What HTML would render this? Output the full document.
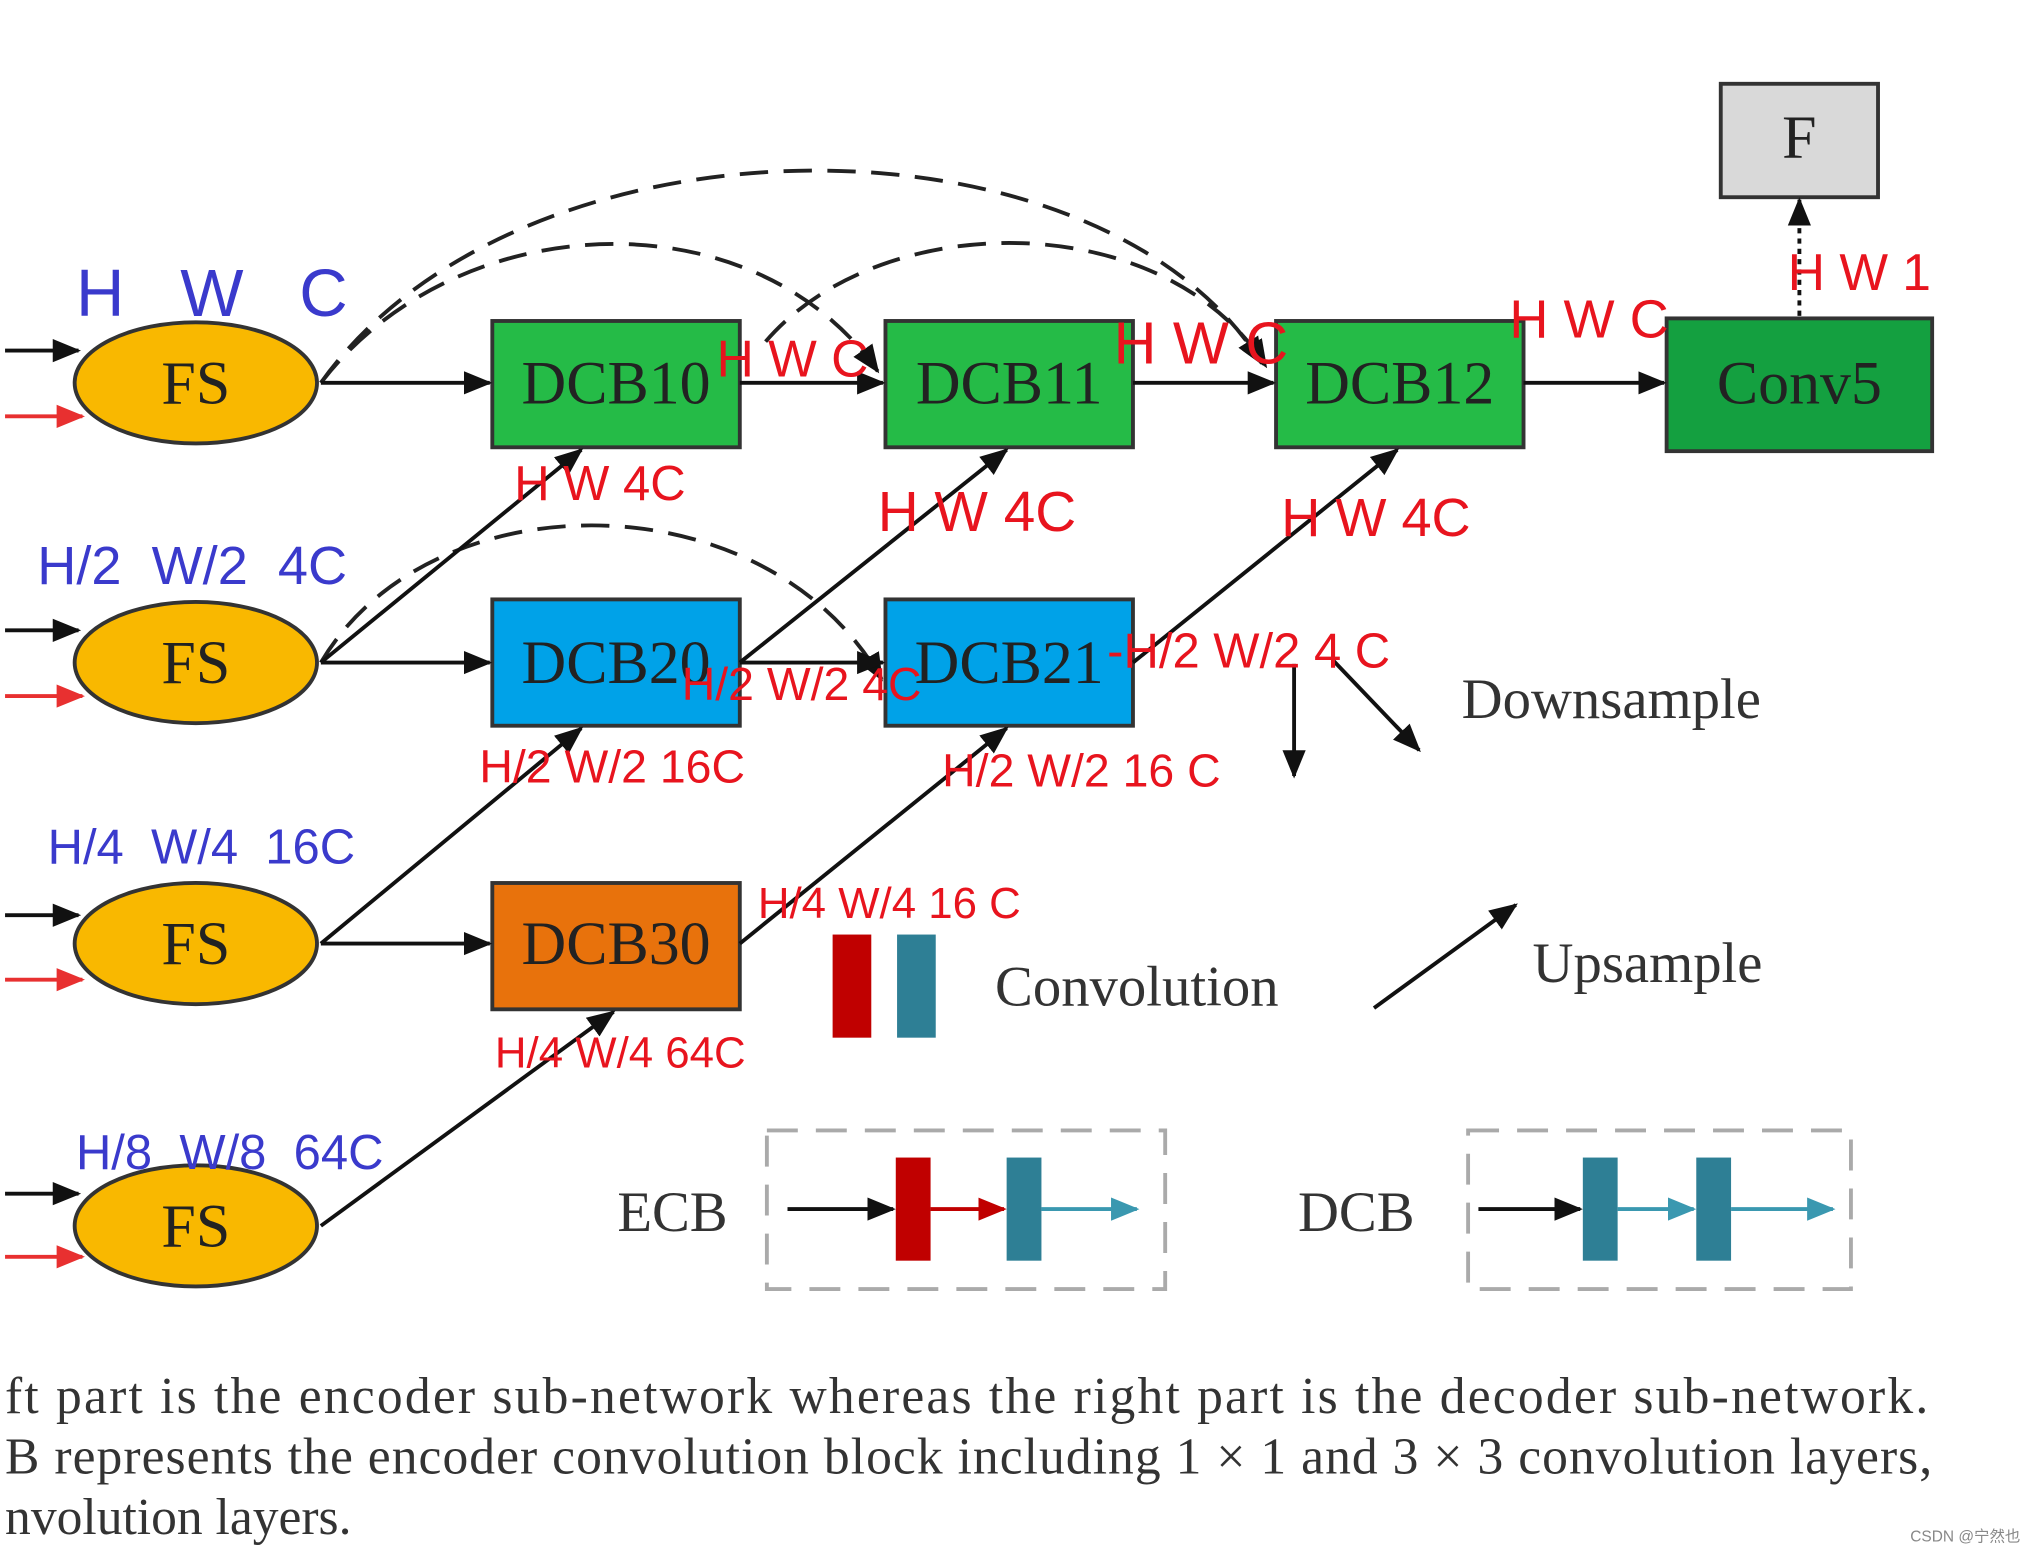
<!DOCTYPE html>
<html><head><meta charset="utf-8"><style>
html,body{margin:0;padding:0;background:#fff;width:2021px;height:1552px;overflow:hidden}
svg{display:block}
.serif{font-family:"Liberation Serif",serif}
.sans{font-family:"Liberation Sans","Noto Sans CJK SC",sans-serif}
.red{fill:#e8141e}
.blue{fill:#3a3acc}
</style></head><body>
<svg width="2021" height="1552" viewBox="0 0 1560 1204" xmlns="http://www.w3.org/2000/svg">
<defs>
<marker id="akb" markerWidth="22" markerHeight="22" refX="20" refY="11" orient="auto" markerUnits="userSpaceOnUse" viewBox="0 0 22 22"><path d="M0,2 L22,11 L0,20 z" fill="#111"/></marker>
<marker id="ar" markerWidth="22" markerHeight="22" refX="20" refY="11" orient="auto" markerUnits="userSpaceOnUse" viewBox="0 0 22 22"><path d="M0,2 L22,11 L0,20 z" fill="#e83030"/></marker>
<marker id="ac" markerWidth="22" markerHeight="22" refX="20" refY="11" orient="auto" markerUnits="userSpaceOnUse" viewBox="0 0 22 22"><path d="M0,2 L22,11 L0,20 z" fill="#c00000"/></marker>
<marker id="at" markerWidth="22" markerHeight="22" refX="20" refY="11" orient="auto" markerUnits="userSpaceOnUse" viewBox="0 0 22 22"><path d="M0,2 L22,11 L0,20 z" fill="#3a98b0"/></marker>
</defs>
<g stroke="#111" stroke-width="3" fill="none">
<line x1="0" y1="272" x2="57" y2="272" marker-end="url(#akb)"/>
<line x1="0" y1="489" x2="57" y2="489" marker-end="url(#akb)"/>
<line x1="0" y1="710" x2="57" y2="710" marker-end="url(#akb)"/>
<line x1="0" y1="926" x2="57" y2="926" marker-end="url(#akb)"/>
</g>
<g stroke="#e83030" stroke-width="3" fill="none">
<line x1="0" y1="323" x2="60" y2="323" marker-end="url(#ar)"/>
<line x1="0" y1="540" x2="60" y2="540" marker-end="url(#ar)"/>
<line x1="0" y1="760" x2="60" y2="760" marker-end="url(#ar)"/>
<line x1="0" y1="975" x2="60" y2="975" marker-end="url(#ar)"/>
</g>
<g stroke="#222" stroke-width="3" fill="none" stroke-dasharray="22,12">
<path d="M245,297 C400,80 850,80 975,282" marker-end="url(#akb)"/>
<path d="M245,297 C350,160 580,150 677,288" marker-end="url(#akb)"/>
<path d="M590,265 C680,160 900,160 978,284" marker-end="url(#akb)"/>
<path d="M245,514 C330,370 590,370 680,527" marker-end="url(#akb)"/>
</g>
<g fill="#f9b800" stroke="#333" stroke-width="3">
<ellipse cx="148" cy="297" rx="94" ry="47"/>
<ellipse cx="148" cy="514" rx="94" ry="47"/>
<ellipse cx="148" cy="732" rx="94" ry="47"/>
<ellipse cx="148" cy="951" rx="94" ry="47"/>
</g>
<g stroke="#333" stroke-width="3">
<rect x="378" y="249" width="192" height="98" fill="#25bb47"/>
<rect x="683" y="249" width="192" height="98" fill="#25bb47"/>
<rect x="986" y="249" width="192" height="98" fill="#25bb47"/>
<rect x="1289" y="247" width="206" height="103" fill="#14a040"/>
<rect x="378" y="465" width="192" height="98" fill="#00a2e8"/>
<rect x="683" y="465" width="192" height="98" fill="#00a2e8"/>
<rect x="378" y="685" width="192" height="98" fill="#e8720c"/>
<rect x="1331" y="65" width="122" height="88" fill="#d9d9d9"/>
</g>
<g stroke="#111" stroke-width="3" fill="none">
<line x1="245" y1="297" x2="376" y2="297" marker-end="url(#akb)"/>
<line x1="570" y1="297" x2="681" y2="297" marker-end="url(#akb)"/>
<line x1="875" y1="297" x2="984" y2="297" marker-end="url(#akb)"/>
<line x1="1178" y1="297" x2="1287" y2="297" marker-end="url(#akb)"/>
<line x1="245" y1="514" x2="376" y2="514" marker-end="url(#akb)"/>
<line x1="570" y1="514" x2="681" y2="514" marker-end="url(#akb)"/>
<line x1="245" y1="732" x2="376" y2="732" marker-end="url(#akb)"/>
<line x1="245" y1="514" x2="447" y2="349" marker-end="url(#akb)"/>
<line x1="245" y1="732" x2="447" y2="565" marker-end="url(#akb)"/>
<line x1="245" y1="951" x2="472" y2="785" marker-end="url(#akb)"/>
<line x1="570" y1="514" x2="777" y2="349" marker-end="url(#akb)"/>
<line x1="570" y1="732" x2="777" y2="565" marker-end="url(#akb)"/>
<line x1="875" y1="514" x2="1080" y2="349" marker-end="url(#akb)"/>
<line x1="1392" y1="245" x2="1392" y2="155" stroke-dasharray="4,4" marker-end="url(#akb)"/>
<line x1="1000" y1="515" x2="1000" y2="602" marker-end="url(#akb)"/>
<line x1="1030" y1="512" x2="1097" y2="582" marker-end="url(#akb)"/>
<line x1="1062" y1="782" x2="1172" y2="702" marker-end="url(#akb)"/>
</g>
<g class="serif" font-size="48" fill="#222" text-anchor="middle">
<text x="148" y="313">FS</text>
<text x="148" y="530">FS</text>
<text x="148" y="748">FS</text>
<text x="148" y="967">FS</text>
<text x="474" y="313">DCB10</text>
<text x="779" y="313">DCB11</text>
<text x="1082" y="313">DCB12</text>
<text x="1392" y="313">Conv5</text>
<text x="474" y="530">DCB20</text>
<text x="779" y="530">DCB21</text>
<text x="474" y="748">DCB30</text>
<text x="1392" y="122">F</text>
</g>
<rect x="642" y="725" width="30" height="80" fill="#c00000"/>
<rect x="692" y="725" width="30" height="80" fill="#2e7f95"/>
<g class="serif" font-size="44" fill="#333">
<text x="1130" y="557">Downsample</text>
<text x="768" y="780">Convolution</text>
<text x="1185" y="762">Upsample</text>
<text x="475" y="955">ECB</text>
<text x="1003" y="955">DCB</text>
</g>
<g stroke="#aaa" stroke-width="3" fill="none" stroke-dasharray="24,14">
<rect x="591" y="877" width="309" height="123"/>
<rect x="1135" y="877" width="297" height="123"/>
</g>
<line x1="607" y1="938" x2="689" y2="938" stroke="#111" stroke-width="3" marker-end="url(#akb)"/>
<rect x="691" y="898" width="27" height="80" fill="#c00000"/>
<line x1="718" y1="938" x2="775" y2="938" stroke="#c00000" stroke-width="3" marker-end="url(#ac)"/>
<rect x="777" y="898" width="27" height="80" fill="#2e7f95"/>
<line x1="804" y1="938" x2="878" y2="938" stroke="#3a98b0" stroke-width="3" marker-end="url(#at)"/>
<line x1="1143" y1="938" x2="1222" y2="938" stroke="#111" stroke-width="3" marker-end="url(#akb)"/>
<rect x="1224" y="898" width="27" height="80" fill="#2e7f95"/>
<line x1="1251" y1="938" x2="1310" y2="938" stroke="#3a98b0" stroke-width="3" marker-end="url(#at)"/>
<rect x="1312" y="898" width="27" height="80" fill="#2e7f95"/>
<line x1="1339" y1="938" x2="1418" y2="938" stroke="#3a98b0" stroke-width="3" marker-end="url(#at)"/>
<g class="serif" font-size="40" fill="#333">
<text x="0" y="1096" textLength="1492" lengthAdjust="spacing">ft part is the encoder sub-network whereas the right part is the decoder sub-network.</text>
<text x="0" y="1143" textLength="1495" lengthAdjust="spacing">B represents the encoder convolution block including 1 × 1 and 3 × 3 convolution layers,</text>
<text x="0" y="1190">nvolution layers.</text>
</g>
<text x="1478" y="1196" class="sans" font-size="12" fill="#888">CSDN @宁然也</text>
<g class="sans blue">
<text x="55" y="245" font-size="52" xml:space="preserve">H   W   C</text>
<text x="25" y="453" font-size="42" xml:space="preserve">H/2  W/2  4C</text>
<text x="33" y="670" font-size="38" xml:space="preserve">H/4  W/4  16C</text>
<text x="55" y="907" font-size="38" xml:space="preserve">H/8  W/8  64C</text>
</g>
<g class="sans red">
<text x="552" y="292" font-size="40">H W C</text>
<text x="395" y="388" font-size="38">H W 4C</text>
<text x="860" y="282" font-size="46">H W C</text>
<text x="677" y="412" font-size="44">H W 4C</text>
<text x="1167" y="262" font-size="42">H W C</text>
<text x="1383" y="225" font-size="40">H W 1</text>
<text x="990" y="416" font-size="42">H W 4C</text>
<text x="855" y="518" font-size="38">-H/2 W/2 4 C</text>
<text x="525" y="543" font-size="36">H/2 W/2 4C</text>
<text x="368" y="607" font-size="36">H/2 W/2 16C</text>
<text x="727" y="610" font-size="36">H/2 W/2 16 C</text>
<text x="584" y="712" font-size="34">H/4 W/4 16 C</text>
<text x="380" y="828" font-size="34">H/4 W/4 64C</text>
</g>
</svg>
</body></html>
